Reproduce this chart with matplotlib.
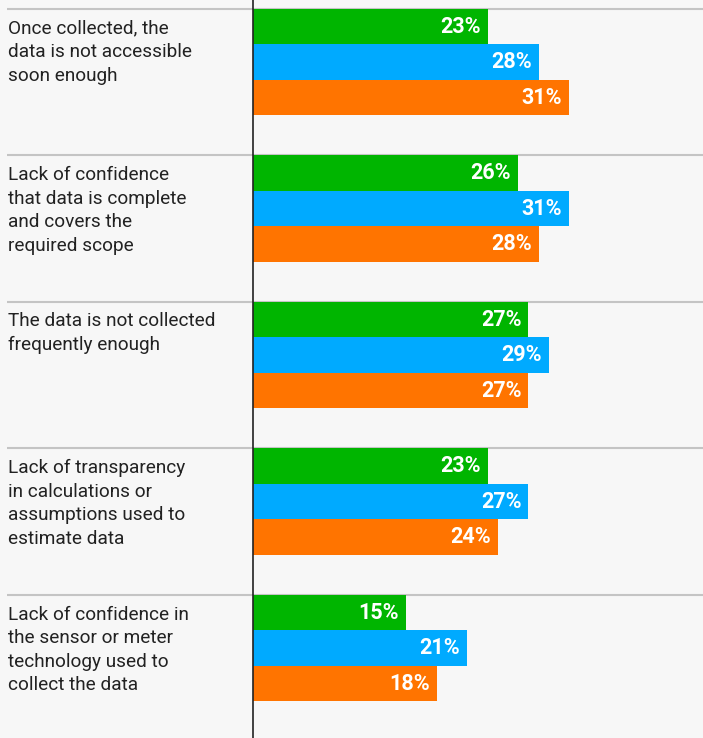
import matplotlib
matplotlib.use("Agg")
import matplotlib.pyplot as plt
import numpy as np

plt.rcParams["font.family"] = ["Roboto", "DejaVu Sans"]

categories = [
    "Once collected, the\ndata is not accessible\nsoon enough",
    "Lack of confidence\nthat data is complete\nand covers the\nrequired scope",
    "The data is not collected\nfrequently enough",
    "Lack of transparency\nin calculations or\nassumptions used to\nestimate data",
    "Lack of confidence in\nthe sensor or meter\ntechnology used to\ncollect the data",
]
green = [23, 26, 27, 23, 15]
blue = [28, 31, 29, 27, 21]
orange = [31, 28, 27, 24, 18]
colors = ["#00b500", "#00aaff", "#ff7400"]

BG = "#f7f7f7"
W, H = 703, 738
fig = plt.figure(figsize=(W / 100, H / 100), dpi=100, facecolor=BG)
# axes covers the full width from the left gridline start to the right edge
ax = fig.add_axes([7 / W, 0, (W - 7) / W, 1], facecolor=BG)

px_per_pct = 10.2
x0_px = 253 - 7
ax.set_xlim(-x0_px / px_per_pct, (W - 7 - x0_px) / px_per_pct)
group_px = 146.5
top_px = 8.5
ax.set_ylim((H - top_px) / group_px, -top_px / group_px)

bh = 35.5 / group_px
n = len(categories)
for k, vals in enumerate([green, blue, orange]):
    ys = np.arange(n) + bh / 2 + k * bh
    ax.barh(ys, vals, height=bh, color=colors[k], zorder=2)
    for y, v in zip(ys, vals):
        ax.text(v - 0.7, y + 0.004, f"{v}%", ha="right", va="center", color="white",
                fontsize=15.5, fontweight="bold", zorder=3)

for i, lab in enumerate(categories):
    ax.axhline(i, color="#c4c4c4", lw=1.5, zorder=1)
    ax.text(-x0_px / px_per_pct + 0.05, i + 11 / group_px, lab, ha="left", va="top",
            fontsize=13.7, color="#222222", linespacing=1.4)

ax.axvline(0, ymin=0, ymax=1 - 0.3 / H, color="#222222", lw=1.2, zorder=4)

for s in ax.spines.values():
    s.set_visible(False)
ax.set_xticks([])
ax.set_yticks([])

fig.savefig("out.png", dpi=100, facecolor=BG)
